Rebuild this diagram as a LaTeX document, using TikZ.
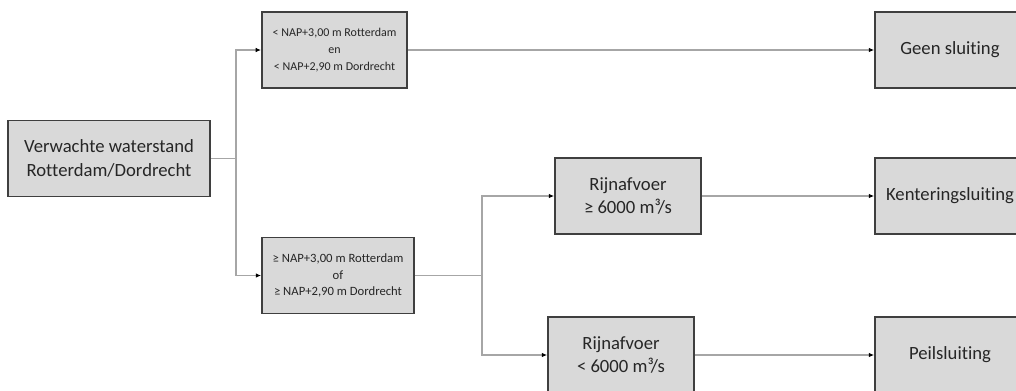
\documentclass[tikz,border=0pt]{standalone}
\usepackage{fontspec}
\setmainfont{Carlito}[Ligatures=NoCommon]
\usepackage{tikz}
\usetikzlibrary{arrows.meta,positioning}
\tikzset{>={Latex[length=4pt,width=3.5pt,black]}}
\definecolor{boxfill}{HTML}{D9D9D9}
\definecolor{boxline}{HTML}{3F3F3F}
\definecolor{wire}{HTML}{A6A6A6}
\definecolor{txt}{HTML}{262626}

\begin{document}
\begin{tikzpicture}[x=0.75pt, y=-0.75pt,
    box/.style={draw=boxline, fill=boxfill, line width=1.3pt, minimum height=57pt,
                align=center, text=txt, inner sep=2pt, font=\fontsize{14}{17.5}\selectfont},
    cond/.style={box, font=\fontsize{9.5}{12.5}\selectfont},
    wire/.style={draw=wire, line width=0.8pt}]
    \useasboundingbox (0,0) rectangle (1016,390);

    % boxes
    \node[box, minimum width=152pt] (verwacht) at (109,158.5) {Verwachte waterstand\\Rotterdam/Dordrecht};
    \node[cond, minimum width=109pt, font=\fontsize{9}{12.5}\selectfont] (laag) at (334.5,50) {< NAP+3,00 m Rotterdam\\en\\< NAP+2,90 m Dordrecht};
    \node[cond, minimum width=114pt] (hoog) at (338,275.5) {≥ NAP+3,00 m Rotterdam\\of\\≥ NAP+2,90 m Dordrecht};
    \node[box, minimum width=109.5pt] (rijnhoog) at (628,196) {Rijnafvoer\\≥ 6000 m³/s};
    \node[box, minimum width=109.5pt] (rijnlaag) at (621,355) {Rijnafvoer\\< 6000 m³/s};
    \node[box, minimum width=112.5pt] (geen) at (950,50) {Geen sluiting};
    \node[box, minimum width=112.5pt] (kentering) at (950,196) {Kenteringsluiting};
    \node[box, minimum width=112.5pt] (peil) at (950,355) {Peilsluiting};

    % connectors
    \coordinate (split1) at (236,158.5);
    \coordinate (split2) at (482,275.5);
    \draw[wire] (verwacht) -- (split1);
    \draw[wire,->] (split1) |- (laag);
    \draw[wire,->] (split1) |- (hoog);
    \draw[wire] (hoog) -- (split2);
    \draw[wire,->] (split2) |- (rijnhoog);
    \draw[wire,->] (split2) |- (rijnlaag);
    \draw[wire,->] (laag) -- (geen);
    \draw[wire,->] (rijnhoog) -- (kentering);
    \draw[wire,->] (rijnlaag) -- (peil);
\end{tikzpicture}
\end{document}
